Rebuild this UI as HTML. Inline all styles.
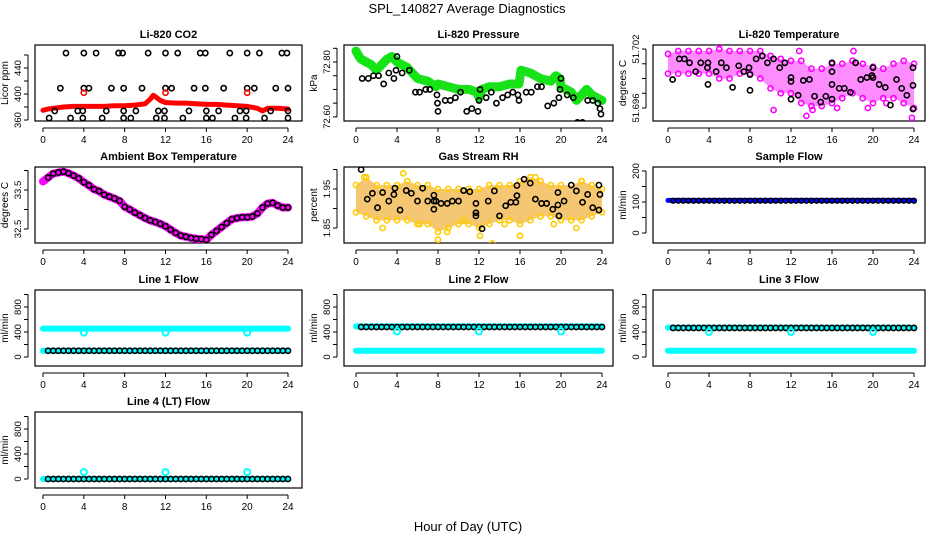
<!DOCTYPE html>
<html><head><meta charset="utf-8"><style>
body{margin:0;background:#fff;}
svg{display:block;font-family:"Liberation Sans",sans-serif;}
</style></head><body>
<svg id="chart" width="936" height="540" viewBox="0 0 936 540" xmlns="http://www.w3.org/2000/svg">
<text x="467" y="13" font-size="13" text-anchor="middle">SPL_140827  Average Diagnostics</text>
<text x="468" y="531" font-size="13" text-anchor="middle">Hour of Day (UTC)</text>
</svg>
<script>
// ---------- DATA ----------
const xTicks = [0,4,8,12,16,20,24];
// CO2
const co2Hours = [0,0.5,1,2,3,4,5,6,7,8,9,10,10.5,10.8,11,11.5,12,13,14,15,16,17,18,19,20,21,21.5,22,23,24];
const co2Red = [375,377,378,380,381,381,381,381,382,382,383,385,392,398,396,390,387,386,386,385,384,384,383,382,381,378,374,378,378,377];
const co2BlkH = [2.25,4,5.2,7.4,7.8,10.3,12,13.2,15.4,15.9,18.3,20,21.2,23.4,23.9, 1.7,4,4.5,6.7,7.9,9.7,12,12.6,14.8,15.9,17.7,20,20.7,22.8,24, 1.15,3.4,3.9,6.2,7.9,9.1,11.3,11.9,14.3,16,17.2,19.3,19.9,22.3,24, 0.6,2.7,3.9,5.8,7.9,8.6,11.1,11.9,13.7,16,16.6,18.8,19.9,21.7,24];
const co2BlkV = [463,463,463,463,463,463,463,463,463,463,463,463,463,463,463, 409,409,409,409,409,409,409,409,409,409,409,409,409,409,409, 374,374,374,374,374,374,374,374,374,374,374,374,374,374,374, 363,363,363,363,363,363,363,363,363,363,363,363,363,363,363];
const co2RedPtsH = [4,12,20];
const co2RedPtsV = [402,402,402];
// Pressure
const prHours = [0,0.3,0.5,1,1.5,2,2.5,3,3.5,4,4.5,5,5.5,6,7,7.8,8,9,10,11,11.8,12,12.3,13,14,15,15.9,16.1,17,18,19,19.5,19.9,20,21,21.5,22,22.5,23,24];
const prGreen = [72.84,72.82,72.81,72.80,72.79,72.77,72.79,72.81,72.82,72.80,72.79,72.78,72.76,72.74,72.73,72.71,72.72,72.71,72.70,72.70,72.69,72.67,72.70,72.71,72.71,72.72,72.72,72.77,72.76,72.74,72.73,72.75,72.74,72.71,72.69,72.66,72.68,72.70,72.68,72.66];
const prBlkH = [0.6,1.2,1.7,2.2,2.7,3.2,3.7,3.9,4.0,4.5,5.2,5.8,6.2,6.8,7.2,7.9,7.95,8,8.7,9.2,9.7,10.2,10.8,11.3,11.9,12,12.1,12.7,13.2,13.7,14.3,14.8,15.3,15.8,15.9,16.6,17.1,17.7,18.1,18.7,19.3,19.8,19.9,20,20.6,21.2,21.6,22.1,22.6,23.1,23.6,23.8,23.9];
const prBlkV = [72.74,72.74,72.75,72.75,72.72,72.76,72.74,72.77,72.82,72.76,72.77,72.69,72.69,72.70,72.70,72.68,72.65,72.62,72.66,72.66,72.67,72.69,72.62,72.63,72.62,72.66,72.70,72.67,72.69,72.65,72.67,72.68,72.69,72.68,72.66,72.69,72.69,72.71,72.71,72.64,72.65,72.67,72.70,72.74,72.68,72.67,72.58,72.58,72.66,72.66,72.65,72.63,72.61];
// Li-820 temperature
const tHours = [0,1,2,3,4,5,6,7,8,9,10,11,12,13,14,15,16,17,18,19,20,21,22,23,24];
const tUpper = [51.7015,51.7018,51.7018,51.7018,51.7018,51.7020,51.7018,51.7018,51.7018,51.7018,51.7013,51.7010,51.7008,51.7008,51.7000,51.7000,51.7005,51.7005,51.7008,51.7005,51.7002,51.7000,51.7005,51.7008,51.7005];
const tLower = [51.6995,51.6995,51.6995,51.6995,51.6995,51.6990,51.6990,51.6995,51.6995,51.6990,51.6980,51.6975,51.6975,51.6965,51.6962,51.6962,51.6965,51.6970,51.6975,51.6970,51.6965,51.6970,51.6970,51.6965,51.6960];
const tMagOutH = [10.3,13.5,16.5,19.5,23.8,5.0,12.8,18.1,14.1,21.3];
const tMagOutV = [51.6958,51.6952,51.6960,51.6960,51.6950,51.7025,51.7018,51.7018,51.6958,51.6965];
const tBlkH = [0.45,1.1,1.6,2.1,2.7,3.2,3.9,3.9,3.85,4.7,5.2,5.7,6.3,6.9,7.4,7.9,8.0,8.0,8.6,9.2,9.7,10.3,10.9,11.4,12,12,12,12.7,13.2,13.8,14.3,14.9,15.4,16,16,16,16,16.7,17.2,17.8,18.3,18.8,19.4,19.9,20,20,20.6,21.2,21.7,22.3,22.8,23.3,23.9,23.9,23.9];
const tBlkV = [51.6989,51.7010,51.7010,51.7006,51.6997,51.7006,51.6984,51.7006,51.7001,51.6997,51.7006,51.7001,51.6981,51.7003,51.6997,51.7001,51.6994,51.6978,51.7010,51.7013,51.7006,51.7010,51.7001,51.7006,51.6991,51.6987,51.6969,51.6973,51.6988,51.6989,51.6972,51.6966,51.6972,51.6969,51.6984,51.6997,51.7006,51.6980,51.6980,51.6976,51.7006,51.6989,51.6991,51.6993,51.7001,51.6991,51.6984,51.6981,51.6963,51.6989,51.6980,51.6973,51.7001,51.6983,51.6959];
// Ambient box temperature (half-hourly)
const ambHours = [0,0.5,1,1.5,2,2.5,3,3.5,4,4.5,5,5.5,6,6.5,7,7.5,8,8.5,9,9.5,10,10.5,11,11.5,12,12.5,13,13.5,14,14.5,15,15.5,16,16.5,17,17.5,18,18.5,19,19.5,20,20.5,21,21.5,22,22.5,23,23.5,24];
const ambVals = [33.72,33.82,33.92,33.95,33.97,33.93,33.87,33.80,33.70,33.62,33.52,33.47,33.38,33.33,33.28,33.22,33.07,33.00,32.92,32.85,32.78,32.72,32.68,32.63,32.57,32.48,32.40,32.33,32.30,32.27,32.25,32.24,32.22,32.35,32.45,32.55,32.65,32.75,32.78,32.80,32.80,32.82,32.90,33.05,33.15,33.17,33.10,33.05,33.05];
// Gas stream RH
const rhUpper = [1.96,1.98,1.96,1.96,1.96,1.97,1.96,1.96,1.95,1.95,1.95,1.95,1.95,1.96,1.96,1.96,1.97,1.98,1.97,1.96,1.96,1.96,1.97,1.96,1.95];
const rhLower = [1.89,1.88,1.87,1.87,1.87,1.87,1.86,1.86,1.84,1.85,1.86,1.86,1.85,1.86,1.87,1.87,1.86,1.87,1.88,1.88,1.87,1.87,1.87,1.88,1.89];
const rhOutH = [2.6,4.6,8.0,8.9,12.1,13.3,16.0,17.5,21.5,22.0,0.8,6.2,10.5,14.5,19.3];
const rhOutV = [1.85,1.99,1.82,1.84,1.83,1.81,1.83,1.98,1.85,1.97,1.98,1.86,1.87,1.86,1.86];
const rhBlkH = [0.5,1.1,1.6,2.1,2.6,3.2,3.7,3.8,4.3,4.9,5.4,6.0,6.5,7.0,7.6,7.6,7.6,7.8,8.3,8.9,9.4,10,10.5,11.1,11.7,11.7,11.7,12.3,12.9,13.5,14,14.6,15.1,15.6,15.7,15.7,16.4,17,17.5,18.1,18.6,19.2,19.7,19.7,19.8,20.3,21,21.5,22.1,22.6,23.1,23.7,23.7,23.8];
const rhBlkV = [2.00,1.924,1.939,1.902,1.941,1.919,1.936,1.952,1.896,1.946,1.939,1.919,1.952,1.919,1.919,1.934,1.898,1.919,1.913,1.913,1.919,1.919,1.946,1.943,1.913,1.889,1.881,1.848,1.919,1.945,1.881,1.907,1.916,1.916,1.933,1.959,1.975,1.965,1.924,1.913,1.913,1.898,1.909,1.941,1.881,1.919,1.960,1.945,1.916,1.936,1.902,1.896,1.960,1.936];
// Flows
const flowHours = [0,0.5,1,1.5,2,2.5,3,3.5,4,4.5,5,5.5,6,6.5,7,7.5,8,8.5,9,9.5,10,10.5,11,11.5,12,12.5,13,13.5,14,14.5,15,15.5,16,16.5,17,17.5,18,18.5,19,19.5,20,20.5,21,21.5,22,22.5,23,23.5,24];
const sampleFlow = 105;
const sampleBlk = 104;
const line1High = 455, line1Black = 100, line1Low = 100, line1Dip = 390;
const line2High = 490, line2Black = 480, line2Low = 100, line2Dip = 410;
const line3High = 470, line3Black = 465, line3Low = 100, line3Dip = 400;
const line4Base = 0, line4Black = 0, line4Spike = 110;
const dipHours = [4,12,20];

// ---------- LAYOUT ----------
const svg = document.getElementById('chart');
const NS = 'http://www.w3.org/2000/svg';
const cols = [{l:35,r:302,x0:43,x24:288},{l:344,r:613,x0:356,x24:602},{l:653,r:925,x0:668,x24:914}];
const rowTops = [45,167,290,412];
const H = 76;

function mk(tag, attrs, parent){
  const e = document.createElementNS(NS, tag);
  for (const k in attrs) e.setAttribute(k, attrs[k]);
  (parent||svg).appendChild(e);
  return e;
}

function panel(name, title, ytitle, col, row, vTop, vBot, yticks, ylabels){
  const c = cols[col], t = rowTops[row], b = t + H;
  const g = mk('g', {});
  
  
  const xs = h => c.x0 + (h/24)*(c.x24 - c.x0);
  const ys = v => t + (vTop - v)/(vTop - vBot)*H;
  const frame = mk('rect', {x:c.l, y:t, width:c.r-c.l, height:H, fill:'none', stroke:'#000', 'stroke-width':1.2}, g);
  
  
  const tt = mk('text', {x:(c.l+c.r)/2, y:t-7, 'font-size':11, 'font-weight':'bold', 'text-anchor':'middle'}, g);
  tt.textContent = title;
  
  
  const xa = mk('g', {}, g);
  
  
  mk('line', {x1:xs(0), x2:xs(24), y1:b+7, y2:b+7, stroke:'#000'}, xa);
  xTicks.forEach(v => {
    mk('line', {x1:xs(v), x2:xs(v), y1:b+7, y2:b+11, stroke:'#000'}, xa);
    const tx = mk('text', {x:xs(v), y:b+22, 'font-size':10, 'text-anchor':'middle'}, xa);
    tx.textContent = v;
    
    
  });
  const ya = mk('g', {}, g);
  
  
  const ax = c.l - 7;
  mk('line', {x1:ax, x2:ax, y1:ys(yticks[0]), y2:ys(yticks[yticks.length-1]), stroke:'#000'}, ya);
  yticks.forEach(v => mk('line', {x1:ax-4, x2:ax, y1:ys(v), y2:ys(v), stroke:'#000'}, ya));
  ylabels.forEach(v => {
    const yy = ys(v[0]);
    const tx = mk('text', {x:ax-7, y:yy, 'font-size':9.5, 'text-anchor':'middle', transform:`rotate(-90 ${ax-7} ${yy})`}, ya);
    tx.textContent = v[1];
    
    
  });
  const yt = mk('text', {x:c.l-27, y:(t+b)/2, 'font-size':10, 'text-anchor':'middle', transform:`rotate(-90 ${c.l-27} ${(t+b)/2})`}, g);
  yt.textContent = ytitle;
  
  
  const clipId = 'clip-' + name;
  const cp = mk('clipPath', {id:clipId}, g);
  mk('rect', {x:c.l, y:t, width:c.r-c.l, height:H}, cp);
  const marks = mk('g', {'clip-path':`url(#${clipId})`}, g);
  
  
  return {xs, ys, marks};
}

function line(p, hs, vs, color, w){
  const pts = hs.map((h,i)=>p.xs(h).toFixed(1)+','+p.ys(vs[i]).toFixed(1)).join(' ');
  const e = mk('polyline', {points:pts, fill:'none', stroke:color, 'stroke-width':w, 'stroke-linejoin':'round', 'stroke-linecap':'round'}, p.marks);
  
  
}
function band(p, hs, up, lo, color, op){
  const pts = hs.map((h,i)=>p.xs(h)+','+p.ys(up[i])).concat(hs.slice().reverse().map((h,i)=>p.xs(h)+','+p.ys(lo[hs.length-1-i]))).join(' ');
  const e = mk('polygon', {points:pts, fill:color, 'fill-opacity':op, stroke:'none'}, p.marks);
  
  
}
function pts(p, hs, vs, color, r, w){
  hs.forEach((h,i)=>{
    const e = mk('circle', {cx:p.xs(h), cy:p.ys(vs[i]), r:r||2.6, fill:'none', stroke:color, 'stroke-width':w||1.6}, p.marks);
    
    
  });
}
const fill = v => flowHours.map(()=>v);

// CO2
let p = panel('li820-co2','Li-820 CO2','Licor ppm',0,0,475.4,358.5,[360,380,400,420,440,460],[[360,'360'],[400,'400'],[440,'440']]);
line(p, co2Hours, co2Red, '#ff0000', 5);
pts(p, co2BlkH, co2BlkV, '#000');
pts(p, co2RedPtsH, co2RedPtsV, '#ff0000');
// Pressure
p = panel('li820-pressure','Li-820 Pressure','kPa',1,0,72.862,72.585,[72.60,72.65,72.70,72.75,72.80,72.85],[[72.60,'72.60'],[72.80,'72.80']]);
line(p, prHours, prGreen, '#22dd22', 9);
pts(p, prHours, prGreen, '#00ee00', 2.6, 1.4);
pts(p, prBlkH, prBlkV, '#000');
// Temperature
p = panel('li820-temperature','Li-820 Temperature','degrees C',2,0,51.70241,51.69468,[51.696,51.6975,51.699,51.7005,51.702],[[51.696,'51.696'],[51.702,'51.702']]);
band(p, tHours, tUpper, tLower, '#ff00ff', 0.45);
pts(p, tHours, tUpper, '#ff00ff');
pts(p, tHours, tLower, '#ff00ff');
pts(p, tMagOutH, tMagOutV, '#ff00ff');
pts(p, tBlkH, tBlkV, '#000');
// Ambient
p = panel('ambient-box-temperature','Ambient Box Temperature','degrees C',0,1,34.09,32.14,[32.5,33.0,33.5,34.0],[[32.5,'32.5'],[33.5,'33.5']]);
line(p, ambHours, ambVals, '#ff00ff', 8);
pts(p, ambHours.slice(1), ambVals.slice(1), '#000');
// RH
p = panel('gas-stream-rh','Gas Stream RH','percent',1,1,2.0064,1.8115,[1.85,1.90,1.95,2.00],[[1.85,'1.85'],[1.95,'1.95']]);
band(p, tHours, rhUpper, rhLower, '#ee9900', 0.55);
pts(p, tHours, rhUpper, '#ffcc00');
pts(p, tHours, rhLower, '#ffcc00');
pts(p, rhOutH, rhOutV, '#ffcc00');
pts(p, rhBlkH, rhBlkV, '#000');
// Sample flow
p = panel('sample-flow','Sample Flow','ml/min',2,1,212.9,-32.3,[0,50,100,150,200],[[0,'0'],[100,'100'],[200,'200']]);
line(p, flowHours, fill(sampleFlow), '#0000ff', 5);
pts(p, flowHours.slice(1), fill(sampleBlk).slice(1), '#000', 2.4, 1.4);
// Line flows
const fT = [0,200,400,600,800,1000], fL = [[0,'0'],[400,'400'],[800,'800']];
p = panel('line-1-flow','Line 1 Flow','ml/min',0,2,1072,-144,fT,fL);
line(p, flowHours, fill(line1High), '#00ffff', 6);
line(p, flowHours, fill(line1Low), '#00ffff', 6);
pts(p, flowHours.slice(1), fill(line1Black).slice(1), '#000');
pts(p, dipHours, dipHours.map(()=>line1Dip), '#00ffff', 3, 2);
p = panel('line-2-flow','Line 2 Flow','ml/min',1,2,1072,-144,fT,fL);
line(p, flowHours, fill(line2High), '#00ffff', 6);
line(p, flowHours, fill(line2Low), '#00ffff', 6);
pts(p, flowHours.slice(1), fill(line2Black).slice(1), '#000');
pts(p, dipHours, dipHours.map(()=>line2Dip), '#00ffff', 3, 2);
p = panel('line-3-flow','Line 3 Flow','ml/min',2,2,1072,-144,fT,fL);
line(p, flowHours, fill(line3High), '#00ffff', 6);
line(p, flowHours, fill(line3Low), '#00ffff', 6);
pts(p, flowHours.slice(1), fill(line3Black).slice(1), '#000');
pts(p, dipHours, dipHours.map(()=>line3Dip), '#00ffff', 3, 2);
p = panel('line-4-flow','Line 4 (LT) Flow','ml/min',0,3,1072,-144,fT,fL);
line(p, flowHours, fill(line4Base), '#00ffff', 6);
pts(p, flowHours.slice(1), fill(line4Black).slice(1), '#000');
pts(p, dipHours, dipHours.map(()=>line4Spike), '#00ffff', 3, 2);
</script>
</body></html>
